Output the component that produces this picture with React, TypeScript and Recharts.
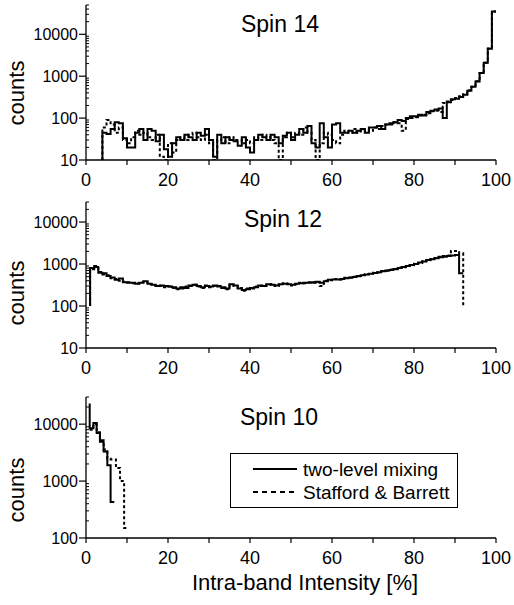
import { LineChart, Line, XAxis, YAxis, Legend } from 'recharts';

const FONT = '"Liberation Sans", Arial, Helvetica, sans-serif';

// x axis: ticks every 10 %, labels every 20 %
const xTicks = [0, 10, 20, 30, 40, 50, 60, 70, 80, 90, 100];
const xLabels = [0, 20, 40, 60, 80, 100];

const seriesNames = ['two-level mixing', 'Stafford & Barrett'];

// Spin 14, 1 % bins starting at 4 %
const spin14Start = 4;
const spin14Mixing = [
  45, 42, 55, 80, 75, 33,
  20, 20, 45, 55, 30, 55, 50, 28, 40, 18,
  12, 25, 35, 30, 40, 35, 30, 45, 38, 55,
  30, 12, 40, 25, 35, 30, 28, 22, 35, 20,
  15, 30, 40, 35, 30, 40, 35, 25, 38, 45,
  30, 40, 55, 45, 65, 25, 20, 75, 35, 20,
  70, 75, 45, 45, 50, 45, 50, 55, 45, 60,
  60, 65, 55, 70, 75, 80, 90, 85, 100, 110,
  110, 120, 115, 140, 150, 160, 170, 100, 240, 280,
  290, 320, 360, 450, 560, 750, 1200, 2100, 4500, 35000,
];
const spin14Stafford = [
  60, 90, 70, 45, 60, 30,
  25, 35, 50, 40, 45, 35, 30, 40, 12, 10,
  25, 15, 30, 35, 30, 40, 45, 35, 30, 40,
  25, 10, 30, 35, 25, 35, 30, 30, 25, 30,
  25, 35, 30, 40, 35, 30, 25, 10, 35, 45,
  35, 45, 40, 60, 45, 30, 10, 25, 45, 40,
  30, 25, 40, 50, 45, 55, 45, 50, 55, 50,
  60, 55, 65, 70, 70, 80, 75, 50, 95, 100,
  105, 115, 120, 130, 145, 150, 140, 230, 250, 270,
  300, 330, 370, 460, 560, 760, 1200, 2100, 4600, 35000,
];

// Spin 12, 1 % bins starting at 1 %
const spin12Start = 1;
const spin12Mixing = [
  800, 850, 620, 600, 520, 480, 420, 450, 370, 360,
  360, 340, 360, 390, 340, 320, 300, 310, 300, 290,
  280, 260, 280, 270, 310, 320, 300, 280, 300, 290,
  310, 290, 270, 260, 330, 310, 260, 240, 250, 270,
  280, 310, 300, 330, 320, 310, 330, 340, 330, 320,
  340, 350, 360, 360, 370, 380, 360, 390, 420, 430,
  430, 440, 460, 470, 490, 520, 540, 560, 590, 610,
  640, 670, 700, 720, 760, 800, 850, 900, 950, 1000,
  1080, 1150, 1250, 1300, 1380, 1450, 1500, 1550, 1600, 1650,
  600,
];
const spin12Stafford = [
  750, 900, 650, 560, 540, 460, 440, 400, 380, 370,
  350, 350, 370, 380, 330, 310, 310, 300, 280, 290,
  270, 250, 260, 290, 300, 320, 290, 270, 310, 280,
  300, 300, 280, 250, 320, 300, 270, 230, 260, 260,
  290, 300, 310, 320, 330, 300, 320, 350, 340, 310,
  330, 360, 350, 370, 360, 370, 300, 400, 410, 440,
  440, 430, 470, 480, 500, 510, 550, 570, 580, 620,
  630, 680, 690, 740, 750, 820, 840, 920, 930, 1020,
  1060, 1170, 1230, 1320, 1400, 1480, 1550, 1600, 2050, 2050,
  1800,
];

// Spin 10, narrow bins
const spin10MixingEdges = [0.9, 1.8, 2.6, 3.4, 4.3, 5.2, 6.0];
const spin10Mixing = [8500, 10500, 7000, 4900, 3300, 1900, 430];
const spin10StaffordEdges = [0.9, 1.8, 2.6, 3.4, 4.3, 5.2, 6.0, 7.3, 8.3, 9.3];
const spin10Stafford = [8000, 10000, 7200, 5200, 3600, 2500, 2400, 1700, 1000, 150];

type Pt = { x: number; y: number };

function histo(edges: number[], counts: number[], startLevel: number, endX: number, endLevel: number): Pt[] {
  return [
    { x: edges[0], y: startLevel },
    ...counts.map((c, i) => ({ x: edges[i], y: c })),
    { x: endX, y: endLevel },
  ];
}

const binEdges = (start: number, n: number) => Array.from({ length: n }, (_, i) => start + i);

function logTicks(min: number, max: number) {
  const out: number[] = [];
  for (let d = min; d <= max; d *= 10) {
    for (let m = 1; m <= 9; m++) {
      const v = m * d;
      if (v <= max) out.push(v);
    }
  }
  return out;
}
const isPow10 = (v: number) => Math.abs(Math.log10(v) - Math.round(Math.log10(v))) < 1e-9;

const YTick = (props: any) => {
  const { x, y, payload } = props;
  const v = payload.value;
  if (isPow10(v)) {
    return (
      <g>
        <line x1={x - 7} x2={x} y1={y} y2={y} stroke="#000" strokeWidth={1.2} />
        <text x={x - 8} y={y} dy="0.36em" textAnchor="end" fontSize={16} fontFamily={FONT} fill="#000">
          {v}
        </text>
      </g>
    );
  }
  return <line x1={x} x2={x + 3} y1={y} y2={y} stroke="#000" strokeWidth={1} />;
};

const XTick = (props: any) => {
  const { x, y, payload } = props;
  const v = payload.value;
  const lab = xLabels.includes(v);
  return (
    <g>
      <line x1={x} x2={x} y1={y} y2={y + 5} stroke="#000" strokeWidth={1.2} />
      {lab && (
        <text x={x} y={y + 26} textAnchor="middle" fontSize={18} fontFamily={FONT} fill="#000">
          {v}
        </text>
      )}
    </g>
  );
};

const LegendBox = () => (
  <div style={{ width: 228, height: 55, boxSizing: 'border-box', border: '1.5px solid #000', background: '#fff' }}>
    <svg width={226} height={53} style={{ display: 'block' }}>
      <line x1={22} x2={66} y1={15} y2={15} stroke="#000" strokeWidth={2} />
      <text x={72} y={15} dy="0.36em" fontSize={19} fontFamily={FONT} fill="#000">{seriesNames[0]}</text>
      <line x1={22} x2={66} y1={38} y2={38} stroke="#000" strokeWidth={2} strokeDasharray="5 4" />
      <text x={72} y={38} dy="0.36em" fontSize={19} fontFamily={FONT} fill="#000">{seriesNames[1]}</text>
    </svg>
  </div>
);

type PanelProps = {
  top: number;
  height: number;
  marginTop: number;
  xAxisHeight: number;
  yDomain: [number, number];
  title: string;
  titleX: number;
  titleY: number;
  countsY: number;
  mixing: Pt[];
  stafford: Pt[];
  legend?: boolean;
  xTitle?: string;
};

function Panel(p: PanelProps) {
  const labels = () => (
    <g fontFamily={FONT} fill="#000">
      <text x={p.titleX} y={p.titleY} textAnchor="middle" fontSize={23}>{p.title}</text>
      <text x={16} y={p.countsY} textAnchor="middle" dy="0.36em" fontSize={22} transform={`rotate(-90 16 ${p.countsY})`}>
        counts
      </text>
      {p.xTitle && (
        <text x={305} y={p.height - 15} textAnchor="middle" fontSize={22}>{p.xTitle}</text>
      )}
    </g>
  );
  return (
    <div style={{ position: 'absolute', left: 0, top: p.top }}>
      <LineChart width={514} height={p.height} margin={{ top: p.marginTop, right: 18, bottom: 0, left: 0 }}>
        <XAxis
          type="number"
          dataKey="x"
          domain={[0, 100]}
          ticks={xTicks}
          interval={0}
          tick={XTick}
          tickLine={false}
          tickSize={0}
          tickMargin={0}
          height={p.xAxisHeight}
          axisLine={{ stroke: '#000', strokeWidth: 1.3 }}
          allowDataOverflow
        />
        <YAxis
          type="number"
          scale="log"
          domain={p.yDomain}
          ticks={logTicks(p.yDomain[0], p.yDomain[1])}
          interval={0}
          tick={YTick}
          tickLine={false}
          tickSize={0}
          tickMargin={0}
          width={86}
          axisLine={{ stroke: '#000', strokeWidth: 1.3 }}
          allowDataOverflow
          label={labels}
        />
        <Line
          data={p.mixing}
          dataKey="y"
          name={seriesNames[0]}
          type="stepAfter"
          stroke="#000"
          strokeWidth={2}
          dot={false}
          isAnimationActive={false}
        />
        <Line
          data={p.stafford}
          dataKey="y"
          name={seriesNames[1]}
          type="stepAfter"
          stroke="#000"
          strokeWidth={2}
          strokeDasharray="3 2.5"
          dot={false}
          isAnimationActive={false}
        />
        {p.legend && (
          <Legend
            layout="vertical"
            align="center"
            verticalAlign="middle"
            content={LegendBox}
            wrapperStyle={{ left: 230, top: 68, width: 228, height: 55 }}
          />
        )}
      </LineChart>
    </div>
  );
}

export default function App() {
  return (
    <div style={{ position: 'absolute', left: 0, top: 0, width: 514, height: 605, background: '#fff' }}>
      <Panel
        top={0}
        height={200}
        marginTop={5}
        xAxisHeight={40}
        yDomain={[10, 50000]}
        title="Spin 14"
        titleX={280}
        titleY={32}
        countsY={93}
        mixing={histo(binEdges(spin14Start, spin14Mixing.length), spin14Mixing, 10, 100, 35000)}
        stafford={histo(binEdges(spin14Start, spin14Stafford.length), spin14Stafford, 10, 100, 35000)}
      />
      <Panel
        top={190}
        height={195}
        marginTop={12}
        xAxisHeight={37}
        yDomain={[10, 30000]}
        title="Spin 12"
        titleX={283}
        titleY={37}
        countsY={103}
        mixing={histo(binEdges(spin12Start, spin12Mixing.length), spin12Mixing, 100, 92, 600)}
        stafford={histo(binEdges(spin12Start, spin12Stafford.length), spin12Stafford, 100, 92, 100)}
      />
      <Panel
        top={385}
        height={220}
        marginTop={12}
        xAxisHeight={67}
        yDomain={[100, 30000]}
        title="Spin 10"
        titleX={279}
        titleY={40}
        countsY={105}
        mixing={histo(spin10MixingEdges, spin10Mixing, 23000, 6.9, 430)}
        stafford={histo(spin10StaffordEdges, spin10Stafford, 8000, 9.9, 150)}
        legend
        xTitle="Intra-band Intensity [%]"
      />
    </div>
  );
}
